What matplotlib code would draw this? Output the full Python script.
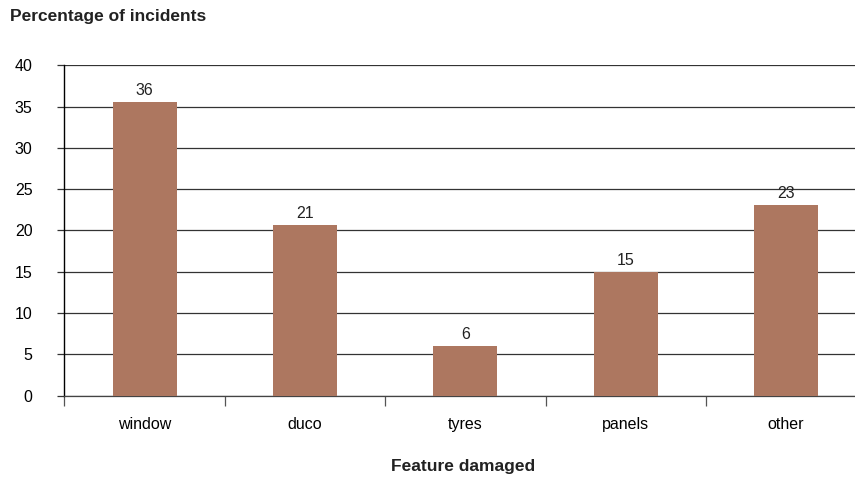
import matplotlib.pyplot as plt

# Share of incidents by damaged vehicle feature
features = ["window", "duco", "tyres", "panels", "other"]
percent = [35.5, 20.7, 6.0, 15.0, 23.1]

plt.rcParams['font.family'] = ['Liberation Sans', 'DejaVu Sans']

fig = plt.figure(figsize=(8.55, 4.79), dpi=100)
ax = fig.add_axes([0.0754, 0.1739, 0.9246, 0.6898])

x = range(len(features))
bars = ax.bar(x, percent, width=0.4, color='#ad7760', zorder=3)

for xi, v in zip(x, percent):
    ax.text(xi, v + 0.5, f"{v:.0f}", ha='center', va='bottom', fontsize=11.5, color='#222222')

ax.set_ylim(0, 40)
ax.set_xlim(-0.5, 4.43)
ax.set_yticks(range(0, 41, 5))
ax.yaxis.grid(True, color='#333333', linewidth=0.9, zorder=0)
ax.tick_params(axis='y', length=5, width=0.9, color='#333333', pad=18, labelsize=11.5)
for lab in ax.get_yticklabels():
    lab.set_horizontalalignment('right')

# category ticks sit between bars, labels sit under bars
ax.set_xticks([i - 0.5 for i in range(len(features))])
ax.set_xticklabels([])
ax.set_xticks(list(x), minor=True)
ax.set_xticklabels(features, minor=True)
ax.tick_params(axis='x', which='major', length=7, width=0.9, color='#555555')
ax.tick_params(axis='x', which='minor', length=0, pad=15, labelsize=11.5)

for side in ['top', 'right']:
    ax.spines[side].set_visible(False)
ax.spines['left'].set_color('black')
ax.spines['left'].set_linewidth(1.0)
ax.spines['bottom'].set_color('#444444')
ax.spines['bottom'].set_linewidth(0.9)

fig.text(10 / 855, 1 - 17 / 479, "Percentage of incidents", fontsize=12.5, fontweight='bold',
         ha='left', va='center', color='#222222')
fig.text(463 / 855, 1 - 466 / 479, "Feature damaged", fontsize=12.5, fontweight='bold',
         ha='center', va='center', color='#222222')

fig.savefig("out.png", dpi=100)
